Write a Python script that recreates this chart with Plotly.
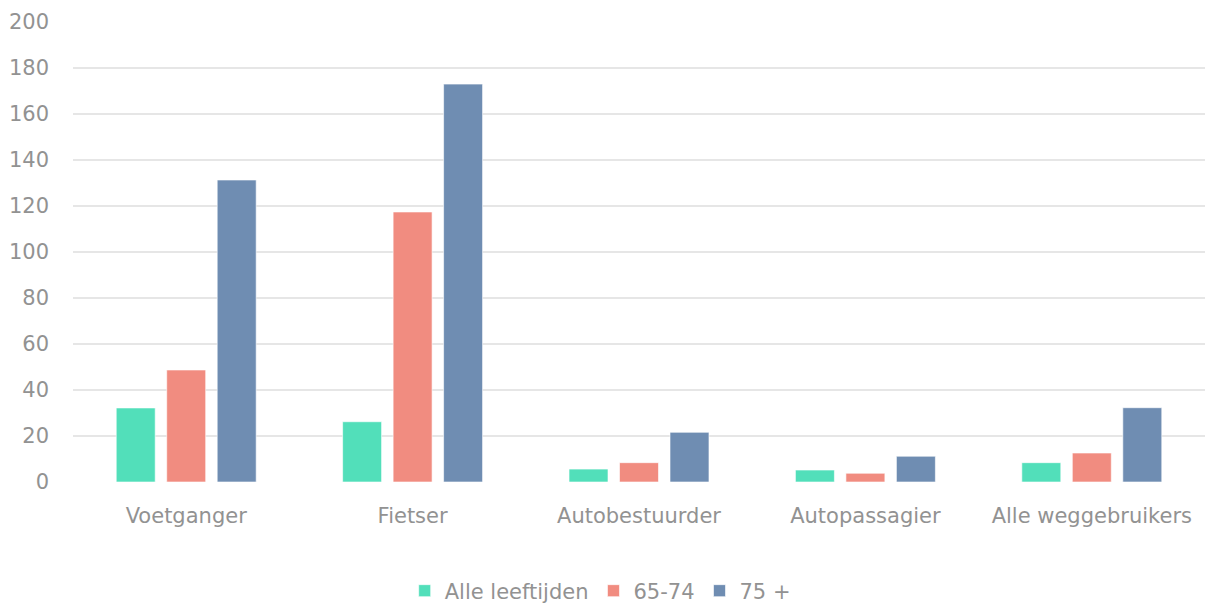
import plotly.graph_objects as go

categories = ["Voetganger", "Fietser", "Autobestuurder", "Autopassagier", "Alle weggebruikers"]
series_names = ["Alle leeftijden", "65-74", "75 +"]
alle_leeftijden = [32.2, 26.2, 5.6, 5.2, 8.4]
leeftijd_65_74 = [48.7, 117.4, 8.4, 3.8, 12.6]
leeftijd_75_plus = [131.3, 173.0, 21.6, 11.2, 32.3]
colors = ["#52DFBA", "#F18C80", "#6F8DB2"]
y_ticks = [0, 20, 40, 60, 80, 100, 120, 140, 160, 180, 200]

fig = go.Figure()
for name, vals, col in zip(series_names, [alle_leeftijden, leeftijd_65_74, leeftijd_75_plus], colors):
    fig.add_trace(go.Bar(
        x=categories, y=vals, name=name,
        marker=dict(color=col, line=dict(color="rgba(255,255,255,0.6)", width=1)),
    ))

font_family = "DejaVu Sans, Verdana, sans-serif"
txt = "#929292"
fig.update_layout(
    width=1205, height=605,
    margin=dict(l=73, r=0, t=22, b=123, autoexpand=False),
    paper_bgcolor="white", plot_bgcolor="white",
    barmode="group", bargap=0.331, bargroupgap=0.228,
    font=dict(family=font_family, size=21, color=txt),
    showlegend=True,
    legend=dict(orientation="h", x=0.293, xanchor="left", y=-0.237, yanchor="middle",
                font=dict(size=21, color=txt), itemwidth=30,
                traceorder="normal"),
    xaxis=dict(showgrid=False, showline=False, zeroline=False, ticks="", automargin=False,
               ticklabelstandoff=19, tickfont=dict(size=21, color=txt)),
    yaxis=dict(range=[0, 200], tickvals=y_ticks, showgrid=True, gridcolor="#E6E6E6",
               gridwidth=1.5, zeroline=False, showline=False, ticks="", automargin=False,
               ticklabelstandoff=23, tickfont=dict(size=21, color=txt)),
)
fig.write_html("out.html")
